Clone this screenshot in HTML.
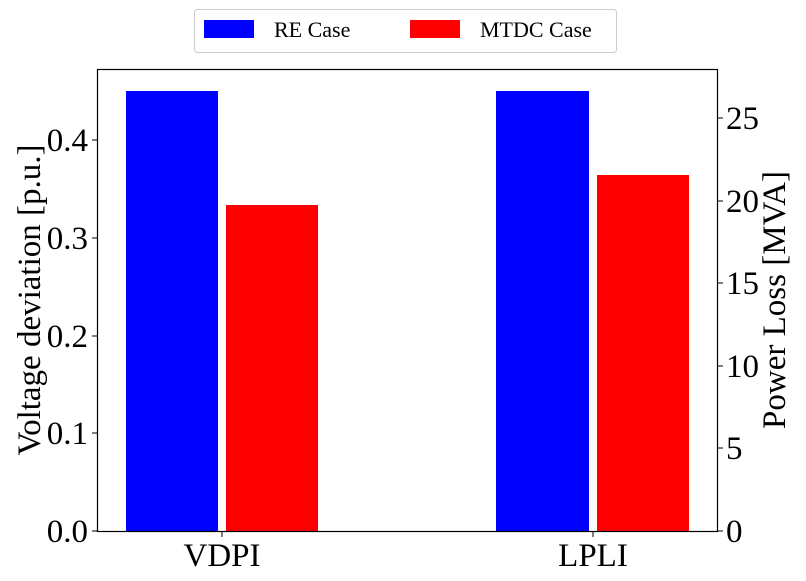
<!DOCTYPE html>
<html><head><style>body{margin:0;background:#fff}svg{display:block}text{font-family:"Liberation Serif",serif;fill:#000}</style></head>
<body>
<svg width="806" height="581" xmlns="http://www.w3.org/2000/svg">
<rect width="806" height="581" fill="#fff"/>
<rect x="126" y="91" width="92" height="440" fill="#0000ff"/>
<rect x="226" y="205" width="92" height="326" fill="#ff0000"/>
<rect x="496" y="91" width="93" height="440" fill="#0000ff"/>
<rect x="597" y="175" width="92" height="356" fill="#ff0000"/>
<rect x="97.5" y="69.5" width="620" height="462" fill="none" stroke="#000" stroke-width="1.2"/>
<g stroke="#000" stroke-width="1">
<line x1="92" y1="531" x2="97" y2="531"/><line x1="92" y1="433" x2="97" y2="433"/><line x1="92" y1="336" x2="97" y2="336"/><line x1="92" y1="238" x2="97" y2="238"/><line x1="92" y1="140" x2="97" y2="140"/>
<line x1="718" y1="531" x2="723" y2="531"/><line x1="718" y1="448" x2="723" y2="448"/><line x1="718" y1="366" x2="723" y2="366"/><line x1="718" y1="283" x2="723" y2="283"/><line x1="718" y1="201" x2="723" y2="201"/><line x1="718" y1="118" x2="723" y2="118"/>
<line x1="222" y1="532" x2="222" y2="537"/><line x1="593" y1="532" x2="593" y2="537"/>
</g>
<g font-size="33" text-anchor="end">
<text x="88" y="542">0.0</text><text x="88" y="444">0.1</text><text x="88" y="347">0.2</text><text x="88" y="249">0.3</text><text x="88" y="151">0.4</text>
</g>
<g font-size="33" text-anchor="start">
<text x="726" y="542">0</text><text x="726" y="459">5</text><text x="726" y="377">10</text><text x="726" y="294">15</text><text x="726" y="212">20</text><text x="726" y="129">25</text>
</g>
<g font-size="33" text-anchor="middle">
<text x="222" y="566">VDPI</text><text x="593" y="566">LPLI</text>
<text transform="translate(40,300) rotate(-90)">Voltage deviation [p.u.]</text>
<text transform="translate(785,300) rotate(-90)">Power Loss [MVA]</text>
</g>
<rect x="194.5" y="9.5" width="422" height="43" rx="3" fill="#fff" stroke="#ccc"/>
<rect x="204" y="20" width="50" height="18" fill="#0000ff"/>
<rect x="410" y="20" width="50" height="18" fill="#ff0000"/>
<text x="274" y="37" font-size="22">RE Case</text>
<text x="480" y="37" font-size="22">MTDC Case</text>
</svg>
</body></html>
